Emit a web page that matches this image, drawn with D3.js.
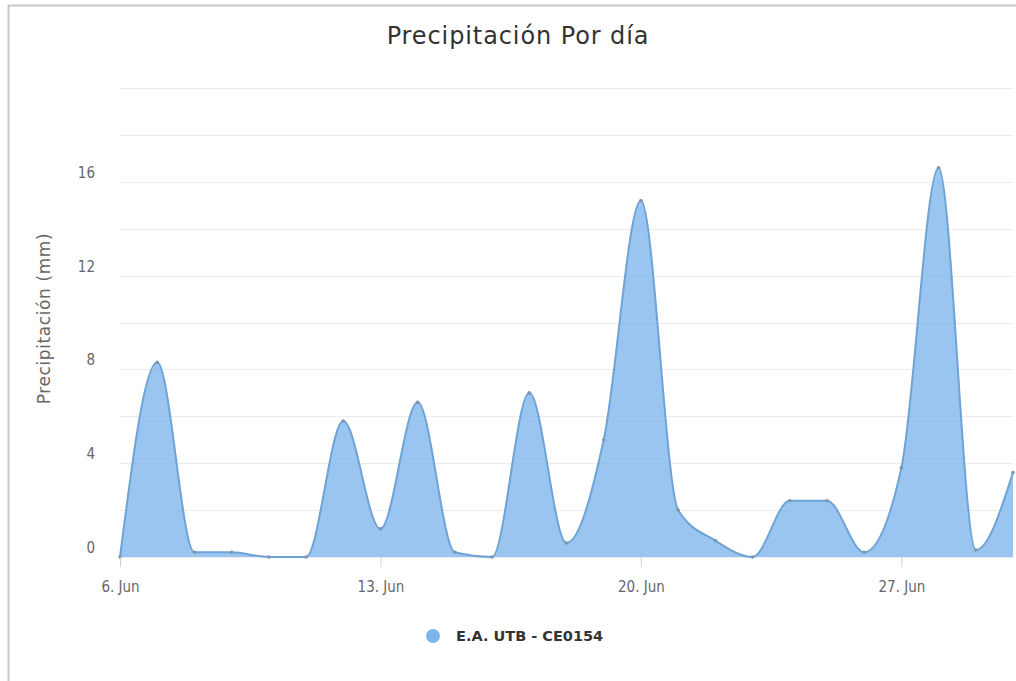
<!DOCTYPE html>
<html>
<head>
<meta charset="utf-8">
<script src="https://cdn.jsdelivr.net/npm/d3@7"></script>
<style>
  body { margin: 0; background: #fff; }
  svg { display: block; font-family: "DejaVu Sans", sans-serif; }
</style>
</head>
<body>
<svg id="chart" width="1016" height="681"></svg>
<script>
  // daily precipitation, 6 Jun .. 30 Jun
  var startDay = 6;
  var rain = [0, 8.3, 0.2, 0.2, 0, 0, 5.8, 1.2, 6.6, 0.2, 0, 7.0, 0.6, 5.0, 15.2,
              2.0, 0.7, 0, 2.4, 2.4, 0.2, 3.8, 16.6, 0.3, 3.6];
  var yTicks = [0, 4, 8, 12, 16];
  var gridTicks = [0, 2, 4, 6, 8, 10, 12, 14, 16, 18, 20];
  var xTicks = [6, 13, 20, 27];
  var seriesName = 'E.A. UTB - CE0154';

(function () {
  'use strict';

  var svg = d3.select('#chart');
  var plotLeft = 120, plotRight = 1013, plotTop = 88, plotBottom = 557;

  // outer frame
  svg.append('path')
     .attr('d', 'M8.5,681 L8.5,5.5 L1016,5.5')
     .attr('fill', 'none')
     .attr('stroke', '#c8c8c8')
     .attr('stroke-width', 2);

  var xScale = d3.scaleLinear()
     .domain([startDay, startDay + rain.length - 1])
     .range([plotLeft, plotRight]);

  var yScale = d3.scaleLinear()
     .domain([0, 20])
     .range([plotBottom, plotTop]);

  // grid
  svg.append('g').selectAll('line')
     .data(gridTicks)
     .enter().append('line')
     .attr('x1', plotLeft).attr('x2', plotRight)
     .attr('y1', function (d) { return Math.round(yScale(d)) + 0.5; })
     .attr('y2', function (d) { return Math.round(yScale(d)) + 0.5; })
     .attr('stroke', '#ececec')
     .attr('stroke-width', 1);

  var pts = rain.map(function (v, i) { return { day: startDay + i, v: v }; });

  var area = d3.area()
     .curve(d3.curveMonotoneX)
     .x(function (d) { return xScale(d.day); })
     .y0(yScale(0))
     .y1(function (d) { return yScale(d.v); });

  var line = d3.line()
     .curve(d3.curveMonotoneX)
     .x(function (d) { return xScale(d.day); })
     .y(function (d) { return yScale(d.v); });

  svg.append('path')
     .datum(pts)
     .attr('d', area)
     .attr('fill', '#7cb5ec')
     .attr('fill-opacity', 0.78);

  svg.append('path')
     .datum(pts)
     .attr('d', line)
     .attr('fill', 'none')
     .attr('stroke', '#6fa3d6')
     .attr('stroke-width', 2);

  svg.append('g').selectAll('circle')
     .data(pts)
     .enter().append('circle')
     .attr('cx', function (d) { return xScale(d.day); })
     .attr('cy', function (d) { return yScale(d.v); })
     .attr('r', 1.8)
     .attr('fill', '#7f95ad');

  // x axis
  var xAxis = d3.axisBottom(xScale)
     .tickValues(xTicks)
     .tickSize(10)
     .tickFormat(function (d) { return d + '. Jun'; });

  var gx = svg.append('g')
     .attr('transform', 'translate(0,' + plotBottom + ')')
     .call(xAxis);
  gx.select('.domain').remove();
  gx.attr('font-family', null);
  gx.selectAll('line').attr('stroke', '#d0d0d0');
  gx.selectAll('text')
     .attr('y', 24)
     .attr('fill', '#666')
     .style('font-stretch', 'condensed')
     .style('font-size', '15px');

  // y axis
  var yAxis = d3.axisLeft(yScale)
     .tickValues(yTicks)
     .tickSize(0)
     .tickPadding(25);

  var gy = svg.append('g')
     .attr('transform', 'translate(' + plotLeft + ',0)')
     .call(yAxis);
  gy.select('.domain').remove();
  gy.attr('font-family', null);
  gy.selectAll('text')
     .attr('dy', '-0.3em')
     .attr('fill', '#666')
     .style('font-stretch', 'condensed')
     .style('font-size', '15px');

  svg.append('text')
     .attr('transform', 'translate(50,' + ((plotTop + plotBottom) / 2 - 4) + ') rotate(-90)')
     .attr('text-anchor', 'middle')
     .attr('fill', '#666')
     .style('font-size', '17px')
     .style('letter-spacing', '0.6px')
     .text('Precipitación (mm)');

  // title
  svg.append('text')
     .attr('x', 518).attr('y', 44)
     .attr('text-anchor', 'middle')
     .attr('fill', '#333')
     .style('font-size', '24px')
     .style('letter-spacing', '0.9px')
     .text('Precipitación Por día');

  // legend
  var lg = svg.append('g').attr('transform', 'translate(433,636)');
  lg.append('circle').attr('r', 7).attr('fill', '#7cb5ec');
  lg.append('text')
     .attr('x', 23).attr('y', 5)
     .attr('fill', '#333')
     .style('font-size', '14.5px')
     .style('font-weight', 'bold')
     .text(seriesName);
})();
</script>
</body>
</html>
